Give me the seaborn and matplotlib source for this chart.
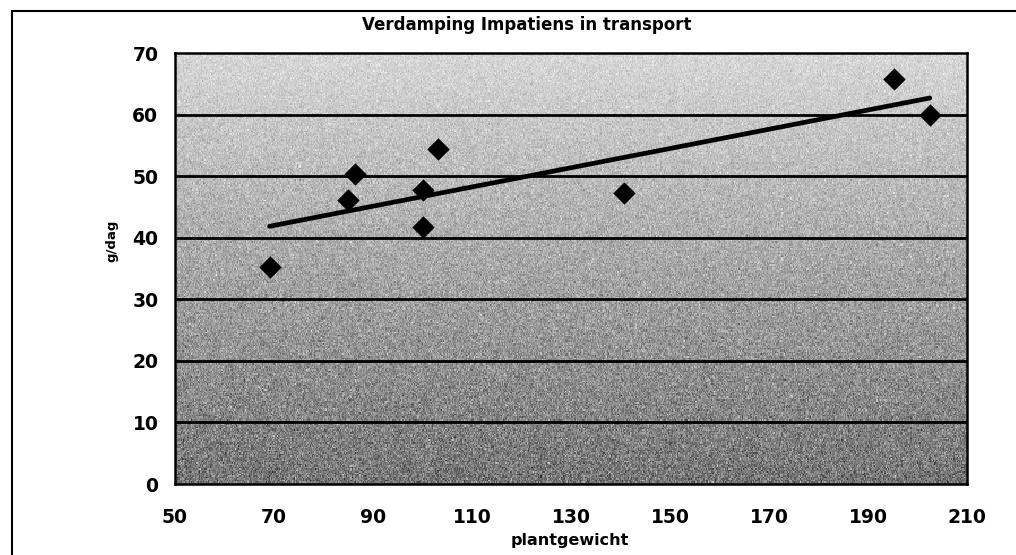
import numpy as np
import pandas as pd
import matplotlib
matplotlib.use("Agg")
import matplotlib.pyplot as plt
from matplotlib.patches import Rectangle
import seaborn as sns

# Plant weight (g) and evaporation (g/day) per measured plant
plantgewicht = [69.1, 85.0, 86.4, 100.0, 100.0, 103.2, 140.8, 195.3, 202.5]
verdamping = [35.3, 46.1, 50.3, 41.8, 47.8, 54.4, 47.2, 65.7, 60.0]

x_ticks = [50, 70, 90, 110, 130, 150, 170, 190, 210]
y_ticks = [0, 10, 20, 30, 40, 50, 60, 70]

title = "Verdamping Impatiens in transport"
x_label = "plantgewicht"
y_label = "g/dag"

df = pd.DataFrame({"plantgewicht": plantgewicht, "verdamping": verdamping})

sns.set_theme(style="white")
plt.rcParams["font.family"] = ["DejaVu Sans"]
plt.rcParams["font.weight"] = "bold"
plt.rcParams["text.color"] = "black"

fig = plt.figure(figsize=(10.16, 5.55), dpi=100)
ax = fig.add_axes([175 / 1016, 1 - 484 / 555, (967 - 175) / 1016, (484 - 53) / 555])

# Plot-area fill: grey gradient, light at the top and dark at the bottom,
# with a speckled print texture
rows, cols = 300, 700
grad = np.linspace(0.84, 0.46, rows)[:, None] * np.ones((1, cols))
rng = np.random.default_rng(7)
speck = rng.normal(0.0, 0.17, size=(rows, cols))
tex = np.clip(grad + speck * (1.05 - grad), 0, 1)
ax.imshow(tex, extent=[50, 210, 0, 70], origin="upper", aspect="auto",
          cmap="gray", vmin=0, vmax=1, zorder=0, interpolation="nearest")

sns.regplot(data=df, x="plantgewicht", y="verdamping", ax=ax, ci=None,
            marker="D",
            scatter_kws=dict(s=130, color="black", alpha=1, linewidths=0, zorder=4),
            line_kws=dict(color="black", linewidth=3.4, zorder=3,
                          solid_capstyle="round"))

ax.set_xlim(50, 210)
ax.set_ylim(0, 70)
ax.set_xticks(x_ticks)
ax.set_yticks(y_ticks)
ax.set_xticklabels([str(v) for v in x_ticks])
ax.set_yticklabels([str(v) for v in y_ticks])
ax.tick_params(axis="both", direction="out", length=6, width=1.5,
               colors="black", labelsize=13.5)
ax.tick_params(axis="x", pad=11)
ax.tick_params(axis="y", pad=6)
for lab in ax.get_xticklabels() + ax.get_yticklabels():
    lab.set_fontweight("bold")

for yv in y_ticks[1:-1]:
    ax.axhline(yv, color="black", linewidth=2.0, zorder=2)

for side in ["left", "bottom", "top", "right"]:
    ax.spines[side].set_visible(True)
    ax.spines[side].set_color("black")
    ax.spines[side].set_linewidth(1.8)

ax.set_xlabel("")
ax.set_ylabel("")

fig.text(527 / 1016, 1 - 25 / 555, title, ha="center", va="center",
         fontsize=12, fontweight="bold", color="black")
fig.text(570 / 1016, 1 - 540 / 555, x_label, ha="center", va="center",
         fontsize=11.5, fontweight="bold", color="black")
fig.text(112 / 1016, 1 - 241 / 555, y_label, ha="center", va="center",
         rotation=90, fontsize=9.5, fontweight="bold", color="black")

# Chart-area frame
fig.add_artist(Rectangle((12 / 1016, -0.1), 1.2, 1 - 11 / 555 + 0.1,
                         transform=fig.transFigure, fill=False,
                         edgecolor="black", linewidth=1.5))

fig.savefig("out.png", dpi=100, facecolor="white")
